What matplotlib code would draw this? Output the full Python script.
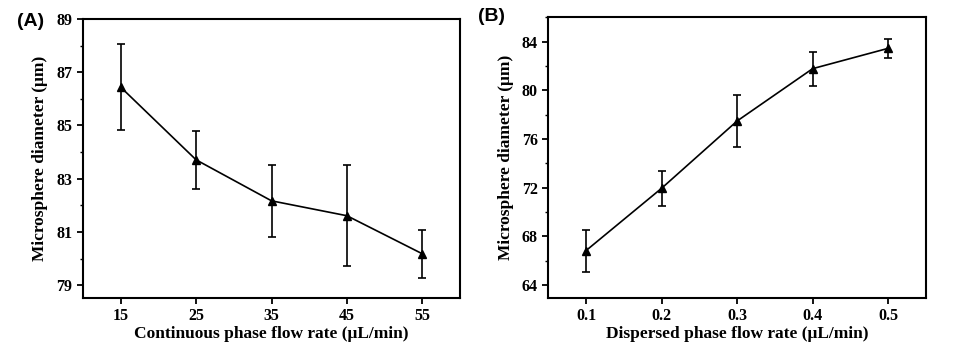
import matplotlib
matplotlib.use("Agg")
import matplotlib.pyplot as plt
from matplotlib.ticker import MultipleLocator, AutoMinorLocator

# Panel A data
cont_flow = [15, 25, 35, 45, 55]
diam_a = [86.44, 83.71, 82.17, 81.61, 80.18]
err_a = [1.62, 1.10, 1.35, 1.90, 0.91]

# Panel B data
disp_flow = [0.1, 0.2, 0.3, 0.4, 0.5]
diam_b = [66.83, 71.95, 77.48, 81.78, 83.45]
err_b = [1.72, 1.44, 2.13, 1.40, 0.78]

plt.rcParams['font.family'] = ['Liberation Serif', 'DejaVu Serif']
plt.rcParams['font.weight'] = 'bold'

fig = plt.figure(figsize=(9.55, 3.5), dpi=100)
axA = fig.add_axes([0.0869, 0.1486, 0.3948, 0.7971])
axB = fig.add_axes([0.5741, 0.1494, 0.3955, 0.8012])

def style(ax):
    for s in ax.spines.values():
        s.set_linewidth(1.5)
    ax.tick_params(axis='both', which='major', direction='out', length=4, width=1.3,
                   labelsize=11.5, top=False, right=False)
    ax.tick_params(axis='y', which='minor', direction='out', length=2.5, width=1.0)
    ax.tick_params(axis='x', which='minor', bottom=False)
    for lab in ax.get_xticklabels() + ax.get_yticklabels():
        lab.set_fontweight('bold')

axA.errorbar(cont_flow, diam_a, yerr=err_a, color='black', lw=1.2, marker='^',
             ms=5.5, capsize=3, elinewidth=1.2, capthick=1.2)
axA.set_xlim(10, 60)
axA.set_ylim(78.52, 89)
axA.set_xticks(cont_flow)
axA.set_yticks([79, 81, 83, 85, 87, 89])
axA.yaxis.set_minor_locator(AutoMinorLocator(2))
axA.set_xlabel('Continuous phase flow rate (μL/min)', fontsize=12.5, fontweight='bold', labelpad=1)
axA.set_ylabel('Microsphere diameter (μm)', fontsize=12.5, fontweight='bold', labelpad=6)
style(axA)

axB.errorbar(disp_flow, diam_b, yerr=err_b, color='black', lw=1.2, marker='^',
             ms=5.5, capsize=3, elinewidth=1.2, capthick=1.2)
axB.set_xlim(0.05, 0.55)
axB.set_ylim(62.96, 86)
axB.set_xticks(disp_flow)
axB.set_yticks([64, 68, 72, 76, 80, 84])
axB.yaxis.set_minor_locator(AutoMinorLocator(2))
axB.set_xlabel('Dispersed phase flow rate (μL/min)', fontsize=12.5, fontweight='bold', labelpad=1)
axB.set_ylabel('Microsphere diameter (μm)', fontsize=12.5, fontweight='bold', labelpad=6)
style(axB)

fig.text(0.018, 0.94, '(A)', fontsize=14, fontweight='bold', family=['Liberation Sans', 'DejaVu Sans'], va='center')
fig.text(0.500, 0.952, '(B)', fontsize=14, fontweight='bold', family=['Liberation Sans', 'DejaVu Sans'], va='center')

fig.savefig('out.png', dpi=100)
